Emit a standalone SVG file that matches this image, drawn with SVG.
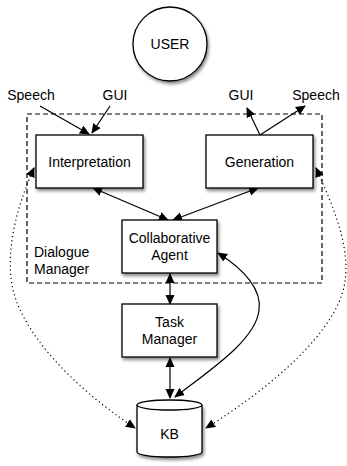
<svg xmlns="http://www.w3.org/2000/svg" width="347" height="466" viewBox="0 0 347 466">
<style>
text{font-family:"Liberation Sans",Arial,sans-serif;font-size:14px;fill:#000;text-anchor:middle}
.box{fill:#fff;stroke:#000;stroke-width:1.3}
.ln{fill:none;stroke:#000;stroke-width:1.2}
.dot{fill:none;stroke:#000;stroke-width:1.2;stroke-dasharray:1.2 3}
</style>
<defs>
<filter id="sh" x="-20%" y="-20%" width="150%" height="150%">
<feDropShadow dx="1.5" dy="2.5" stdDeviation="1.6" flood-color="#000" flood-opacity="0.45"/>
</filter>
<marker id="ah" viewBox="0 0 10 10" refX="9" refY="5" markerWidth="10" markerHeight="10" markerUnits="userSpaceOnUse" orient="auto-start-reverse">
<path d="M0,0.5 L10,5 L0,9.5 Z" fill="#000"/>
</marker>
</defs>
<rect x="27" y="114" width="295" height="169" fill="none" stroke="#000" stroke-width="1.2" stroke-dasharray="5 3"/>
<text x="34" y="257" style="text-anchor:start">Dialogue</text>
<text x="34" y="274" style="text-anchor:start">Manager</text>
<g id="connectors">
<path class="ln" d="M40,106 L89,134" marker-end="url(#ah)"/>
<path class="ln" d="M110,106 L92,133" marker-end="url(#ah)"/>
<path class="ln" d="M260,135 L247,108" marker-end="url(#ah)"/>
<path class="ln" d="M260,135 L305,106" marker-end="url(#ah)"/>
<path class="ln" d="M93,188 L168,220" marker-start="url(#ah)" marker-end="url(#ah)"/>
<path class="ln" d="M258,188 L173,220" marker-start="url(#ah)" marker-end="url(#ah)"/>
<path class="ln" d="M170,274 L170,304" marker-start="url(#ah)" marker-end="url(#ah)"/>
<path class="ln" d="M170,358 L170,398" marker-start="url(#ah)" marker-end="url(#ah)"/>
<path class="ln" d="M218,253 C245,270 262,290 259,310 C256,340 210,370 175,397" marker-start="url(#ah)" marker-end="url(#ah)"/>
<path class="dot" d="M34,168 C16,208 6,250 12,285 C20,330 70,385 135,428" marker-start="url(#ah)" marker-end="url(#ah)"/>
<path class="dot" d="M316,168 C334,208 352,250 344,287 C334,332 275,385 206,428" marker-start="url(#ah)" marker-end="url(#ah)"/>
</g>
<g id="user">
<circle cx="170" cy="44" r="37" class="box" filter="url(#sh)"/>
<text x="170" y="49">USER</text>
</g>
<text x="31" y="100">Speech</text>
<text x="115" y="100">GUI</text>
<text x="241" y="100">GUI</text>
<text x="316" y="100">Speech</text>
<g id="interpretation">
<rect x="36" y="135" width="107" height="53" class="box" filter="url(#sh)"/>
<text x="89.5" y="167">Interpretation</text>
</g>
<g id="generation">
<rect x="206" y="135" width="107" height="53" class="box" filter="url(#sh)"/>
<text x="259.5" y="167">Generation</text>
</g>
<g id="agent">
<rect x="122" y="220" width="95" height="53" class="box" filter="url(#sh)"/>
<text x="169.5" y="243">Collaborative</text>
<text x="169.5" y="260">Agent</text>
</g>
<g id="task">
<rect x="122" y="304" width="95" height="53" class="box" filter="url(#sh)"/>
<text x="169.5" y="327">Task</text>
<text x="169.5" y="344">Manager</text>
</g>
<g id="kb">
<path d="M137,405 L137,452 A32.5,5 0 0 0 202,452 L202,405" class="box" filter="url(#sh)"/>
<ellipse cx="169.5" cy="405" rx="32.5" ry="5" class="box"/>
<text x="169.5" y="439">KB</text>
</g>
</svg>
